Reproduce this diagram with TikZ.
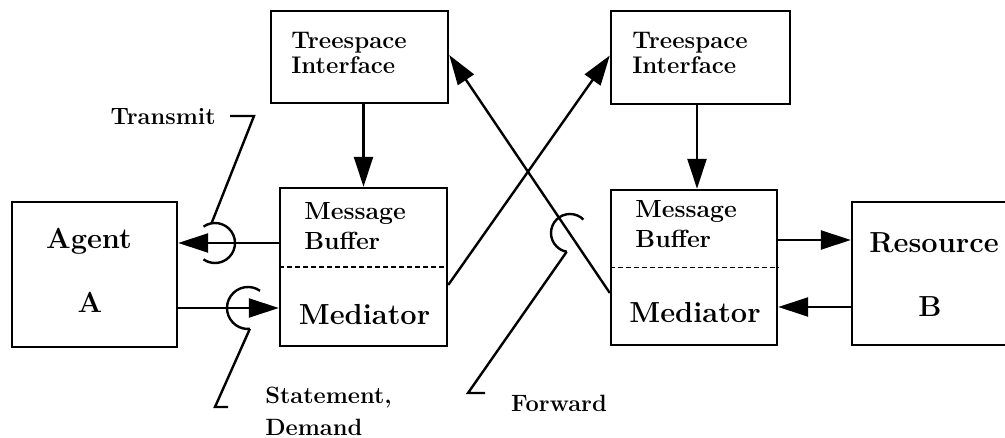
\documentclass[tikz,border=0pt]{standalone}
\usetikzlibrary{arrows.meta, positioning}

\begin{document}
\begin{tikzpicture}[x=0.5pt, y=0.5pt]

        % Setup the styles for the boxes, texts and arrows
        \tikzset{box style/.style={draw, rectangle, line width=1.2pt, inner sep=0pt},
                 small text/.style={font=\bfseries\fontsize{12}{12.5}\selectfont, align=left, inner sep=0pt, anchor=north west},
                 buffer text/.style={font=\bfseries\fontsize{12.4}{15}\selectfont, align=left, inner sep=0pt, anchor=north west},
                 big text/.style={font=\bfseries\fontsize{14.5}{17}\selectfont, inner sep=0pt, anchor=base},
                 call text/.style={font=\bfseries\fontsize{11.8}{16}\selectfont, align=left, inner sep=0pt},
                 link/.style={line width=1.2pt, -{Triangle[length=15pt, width=9.5pt]}},
                 hook/.style={line width=1.2pt},
                 divider/.style={line width=.8pt, dash pattern=on 2.5pt off 1.5pt}}

        \useasboundingbox (0,0) rectangle (1005,438);

        % Draw the boxes
        \node[box style, minimum width=88.5pt, minimum height=46pt]   at (359.5, 381)   (TreeL)     {};
        \node[box style, minimum width=89.5pt, minimum height=46.5pt] at (700.5, 380.5) (TreeR)     {};
        \node[box style, minimum width=82.5pt, minimum height=72.5pt] at (94.5, 163.5)  (Agent)     {};
        \node[box style, minimum width=83.5pt, minimum height=79pt]   at (363.5, 171)   (MedL)      {};
        \node[box style, minimum width=83pt,   minimum height=77.5pt] at (694, 170.5)   (MedR)      {};
        \node[box style, minimum width=84pt,   minimum height=71.5pt] at (936, 164.5)   (Resource)  {};

        \draw[divider] (MedL.west) -- (MedL.east);
        \draw[divider] (MedR.west) -- (MedR.east);

        % Write the texts
        \node[small text]  at (291, 406) (TreeLText) {Treespace\\Interface};
        \node[small text]  at (632, 406) (TreeRText) {Treespace\\Interface};
        \node[buffer text] at (304, 236) (BufLText)  {Message\\Buffer};
        \node[buffer text] at (635, 238) (BufRText)  {Message\\Buffer};
        \node[big text]    at (364.5, 113) (MedLText) {Mediator};
        \node[big text]    at (695, 115)   (MedRText) {Mediator};
        \node[big text]    at (89, 189)    (AgentText) {Agent};
        \node[big text]    at (90, 125)    (AgentA)    {A};
        \node[big text]    at (934, 185)   (ResText)   {Resource};
        \node[big text]    at (930, 121)   (ResB)      {B};

        \node[call text, anchor=base east]  at (216, 313) (Transmit)  {Transmit};
        \node[call text, anchor=north west] at (265, 51)  (Statement) {Statement,\\Demand};
        \node[call text, anchor=base]       at (559, 26)  (Forward)   {Forward};

        % Connect the boxes with arrows
        \draw[link] (MedL.north |- TreeL.south) -- (MedL.north);
        \draw[link] ([xshift=1.5pt]MedR.north |- TreeR.south) -- ([xshift=1.5pt]MedR.north);
        \draw[link] ([yshift=12pt]MedL.west) -- ([yshift=12pt]MedL.west -| Agent.east);
        \draw[link] ([yshift=-20.5pt]Agent.east |- MedL.west) -- ([yshift=-20.5pt]MedL.west);
        \draw[link] ([yshift=13.75pt]MedR.east) -- ([yshift=13.75pt]MedR.east -| Resource.west);
        \draw[link] ([yshift=-19.75pt]Resource.west |- MedR.east) -- ([yshift=-19.75pt]MedR.east);
        \draw[link] ([yshift=-9pt]MedL.east) -- ([yshift=1pt]TreeR.west);
        \draw[link] ([yshift=-12.75pt]MedR.west) -- ([yshift=1pt]TreeL.east);

        % Draw the hooks and their call-outs
        \coordinate (TransmitHook) at (215, 195);
        \coordinate (TransmitBend) at (254, 322);
        \coordinate (TransmitEnd)  at (230, 322);
        \coordinate (StateHook)    at (248, 130);
        \coordinate (StateBend)    at (215, 31);
        \coordinate (StateEnd)     at (228, 31);
        \coordinate (ForwardHook)  at (570, 205);
        \coordinate (ForwardBend)  at (468, 45);
        \coordinate (ForwardEnd)   at (485, 45);

        \draw[hook] ([shift={(125:10pt)}]TransmitHook) arc[start angle=125, end angle=-125, radius=10pt];
        \draw[hook] ([shift={(100:10pt)}]TransmitHook) -- (TransmitBend) -- (TransmitEnd);
        \draw[hook] ([shift={(55:10.5pt)}]StateHook) arc[start angle=55, end angle=275, radius=10.5pt];
        \draw[hook] ([shift={(275:10.5pt)}]StateHook) -- (StateBend) -- (StateEnd);
        \draw[hook] ([shift={(45:9.5pt)}]ForwardHook) arc[start angle=45, end angle=260, radius=9.5pt];
        \draw[hook] ([shift={(260:9.5pt)}]ForwardHook) -- (ForwardBend) -- (ForwardEnd);
      \end{tikzpicture}
\end{document}
